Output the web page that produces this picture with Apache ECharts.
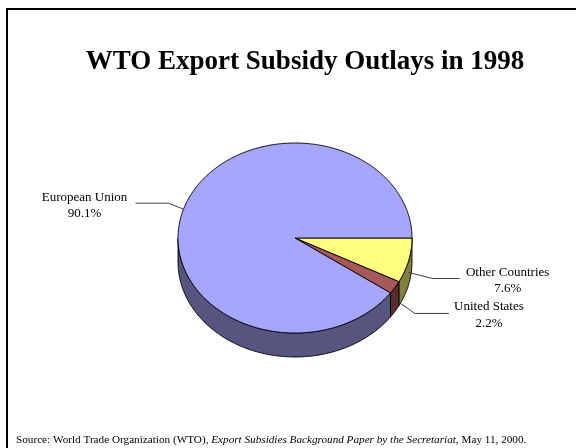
<!DOCTYPE html>
<html><head><meta charset="utf-8">
<script src="https://cdn.jsdelivr.net/npm/echarts@6/dist/echarts.min.js"></script>
<style>html,body{margin:0;padding:0;background:#fff}#c{width:576px;height:448px}</style>
</head><body><div id="c"></div>
<script>
// ---- data ----
const categories = ['Other Countries', 'United States', 'European Union'];
const shares = [7.6, 2.2, 90.1];
const titleText = 'WTO Export Subsidy Outlays in 1998';
const sourcePlain = 'Source: World Trade Organization (WTO), ';
const sourceItalic = 'Export Subsidies Background Paper by the Secretariat';
const sourceEnd = ', May 11, 2000.';

// ---- styles / layout ----
const topColors = ['#FFFF80', '#A85858', '#A6A6FF'];
const sideColors = ['#80803F', '#5C2C2C', '#55557F'];
const PIE = {cx: 295, cy: 238, rx: 117, ry: 95, depth: 24};
const LABEL = [
  {elbow: [24, 6], len: 27, text: [48, 2]},
  {elbow: [20, 14], len: 34, text: [40, 1.5]},
  {elbow: [-15, -6], len: 33, text: [-51, 2.5]}
];
const FONT = 'Liberation Serif, Times New Roman, serif';

const total = shares.reduce((a, b) => a + b, 0);

function renderItem(params, api) {
  const i = params.dataIndex;
  let start = 0;
  for (let j = 0; j < i; j++) start += shares[j];
  const v = api.value(0);
  const a0 = start / total * Math.PI * 2;
  const a1 = (start + v) / total * Math.PI * 2;
  const pt = (a, dy) => [PIE.cx + PIE.rx * Math.cos(a), PIE.cy + PIE.ry * Math.sin(a) + (dy || 0)];
  const arc = (s, e, dy) => {
    const n = Math.max(2, Math.ceil((e - s) / (Math.PI / 180)));
    const out = [];
    for (let k = 0; k <= n; k++) out.push(pt(s + (e - s) * k / n, dy));
    return out;
  };
  const children = [];
  // side wall (front half only)
  const s = Math.max(a0, 0), e = Math.min(a1, Math.PI);
  if (e > s) {
    const pts = arc(s, e, 0).concat(arc(s, e, PIE.depth).reverse());
    children.push({type: 'polygon', shape: {points: pts},
      style: {fill: sideColors[i], stroke: '#000', lineWidth: 0.9}});
  }
  // top face
  const topPts = [[PIE.cx, PIE.cy]].concat(arc(a0, a1, 0));
  children.push({type: 'polygon', shape: {points: topPts},
    style: {fill: topColors[i], stroke: '#000', lineWidth: 0.9}});
  // leader line & label
  const mid = (a0 + a1) / 2;
  const anchor = pt(mid, Math.sin(mid) > 0 ? PIE.depth / 2 : 0);
  const L = LABEL[i];
  const elbow = [anchor[0] + L.elbow[0], anchor[1] + L.elbow[1]];
  const dir = L.elbow[0] >= 0 ? 1 : -1;
  const end = [elbow[0] + dir * L.len, elbow[1]];
  children.push({type: 'polyline', shape: {points: [anchor, elbow, end]},
    style: {stroke: '#404040', lineWidth: 1, fill: null}});
  children.push({type: 'text', x: end[0] + L.text[0], y: end[1] + L.text[1],
    style: {text: categories[i] + '\n' + v.toFixed(1) + '%', fill: '#000',
      font: '13px ' + FONT, align: 'center', verticalAlign: 'middle', lineHeight: 16.5}});
  return {type: 'group', children};
}

const chart = echarts.init(document.getElementById('c'), null, {renderer: 'canvas'});
chart.setOption({
  backgroundColor: '#fff',
  animation: false,
  title: {
    text: titleText, left: 300, top: 44, textAlign: 'center',
    textStyle: {fontFamily: FONT, fontWeight: 'bold', fontSize: 27, color: '#000'}
  },
  graphic: [
    {type: 'line', shape: {x1: 6, y1: 9, x2: 576, y2: 9}, style: {stroke: '#000', lineWidth: 2}},
    {type: 'line', shape: {x1: 7, y1: 8, x2: 7, y2: 448}, style: {stroke: '#000', lineWidth: 2}},
    {type: 'text', left: 16, top: 435,
      style: {text: '{n|' + sourcePlain + '}{i|' + sourceItalic + '}{n|' + sourceEnd + '}',
        rich: {n: {fontFamily: FONT, fontSize: 11.2, fill: '#000', color: '#000'},
               i: {fontFamily: FONT, fontSize: 11.2, fontStyle: 'italic', fill: '#000', color: '#000'}}}}
  ],
  series: [{
    type: 'custom',
    coordinateSystem: 'none',
    renderItem: renderItem,
    data: shares.map((v, i) => ({name: categories[i], value: [v, i]}))
  }]
});
</script>
</body></html>
